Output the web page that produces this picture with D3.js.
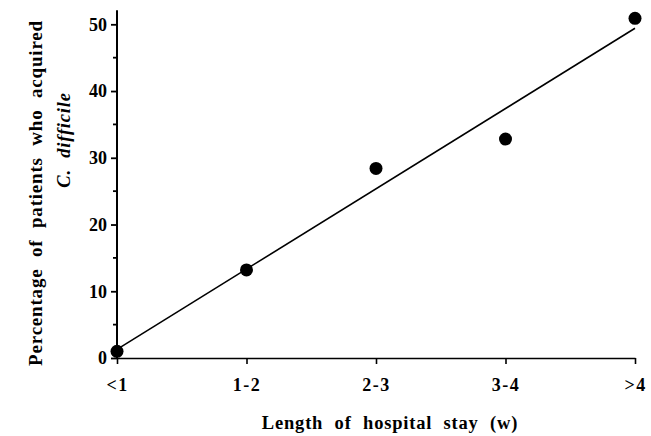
<!DOCTYPE html>
<html>
<head>
<meta charset="utf-8">
<script src="https://cdn.jsdelivr.net/npm/d3@7"></script>
<style>
  html, body { margin: 0; padding: 0; background: #fff; }
  svg { display: block; }
  text { font-family: "Liberation Serif", "Times New Roman", serif; font-weight: bold; fill: #000; }
</style>
</head>
<body>
<script>
// ---- data ----
const categories = ["<1", "1-2", "2-3", "3-4", ">4"];
const percentAcquired = [1.0, 13.2, 28.4, 32.8, 50.9];
const fitLineEnds = [1.3, 49.4];           // fitted line value at first and last category
const yTicks = [0, 10, 20, 30, 40, 50];
const yMinorTicks = [5, 15, 25, 35, 45];
const xTitle = "Length of hospital stay (w)";
const yTitle1 = "Percentage of patients who acquired";
const yTitle2 = "C. difficile";

// ---- layout ----
const W = 651, H = 436;
const svg = d3.select("body").append("svg").attr("width", W).attr("height", H);

const x = d3.scalePoint().domain(categories).range([117, 635]);
const y = d3.scaleLinear().domain([0, 50]).range([358, 24.3]);

// y axis
const yAxis = d3.axisLeft(y).tickValues(yTicks).tickSize(6).tickPadding(4).tickFormat(d3.format("d"));
const gy = svg.append("g").attr("transform", `translate(${x(categories[0])},0)`).call(yAxis);
gy.select(".domain").remove();
gy.selectAll(".tick line").attr("stroke", "#000").attr("stroke-width", 1.8);
gy.selectAll(".tick text").attr("font-size", 18).style("font-family", "Liberation Serif").style("font-weight", "bold");
gy.append("line").attr("x1", 0).attr("x2", 0).attr("y1", y(0)).attr("y2", y(52.1))
  .attr("stroke", "#000").attr("stroke-width", 2);
gy.selectAll(".minor").data(yMinorTicks).enter().append("line")
  .attr("x1", -4).attr("x2", 0).attr("y1", d => y(d)).attr("y2", d => y(d))
  .attr("stroke", "#000").attr("stroke-width", 1.8);

// x axis
const xAxis = d3.axisBottom(x).tickSize(6).tickPadding(22).tickSizeOuter(0);
const gx = svg.append("g").attr("transform", `translate(0,${y(0)})`).call(xAxis);
gx.select(".domain").attr("stroke", "#000").attr("stroke-width", 1.6);
gx.selectAll(".tick line").attr("stroke", "#000").attr("stroke-width", 1.6);
gx.selectAll(".tick text").attr("font-size", 18).attr("dy", "0.25em")
  .style("font-family", "Liberation Serif").style("font-weight", "bold")
  .attr("letter-spacing", 1.5);

// fitted line
svg.append("line")
  .attr("x1", x(categories[0])).attr("y1", y(fitLineEnds[0]))
  .attr("x2", x(categories[categories.length - 1])).attr("y2", y(fitLineEnds[1]))
  .attr("stroke", "#000").attr("stroke-width", 1.6);

// points
svg.selectAll("circle.pt").data(categories).enter().append("circle")
  .attr("class", "pt")
  .attr("cx", d => x(d))
  .attr("cy", (d, i) => y(percentAcquired[i]))
  .attr("r", 6.5)
  .attr("fill", "#000");

// axis titles
svg.append("text")
  .attr("x", 390)
  .attr("y", 429)
  .attr("text-anchor", "middle")
  .attr("font-size", 18.5)
  .attr("word-spacing", 6)
  .attr("letter-spacing", 0.8)
  .text(xTitle);

svg.append("text")
  .attr("transform", "translate(42,193) rotate(-90)")
  .attr("text-anchor", "middle")
  .attr("font-size", 19)
  .attr("word-spacing", 6)
  .attr("letter-spacing", 0.8)
  .text(yTitle1);

svg.append("text")
  .attr("transform", "translate(70,140) rotate(-90)")
  .attr("text-anchor", "middle")
  .attr("font-size", 18.5)
  .attr("font-style", "italic")
  .attr("word-spacing", 6)
  .attr("letter-spacing", 0.8)
  .text(yTitle2);
</script>
</body>
</html>
